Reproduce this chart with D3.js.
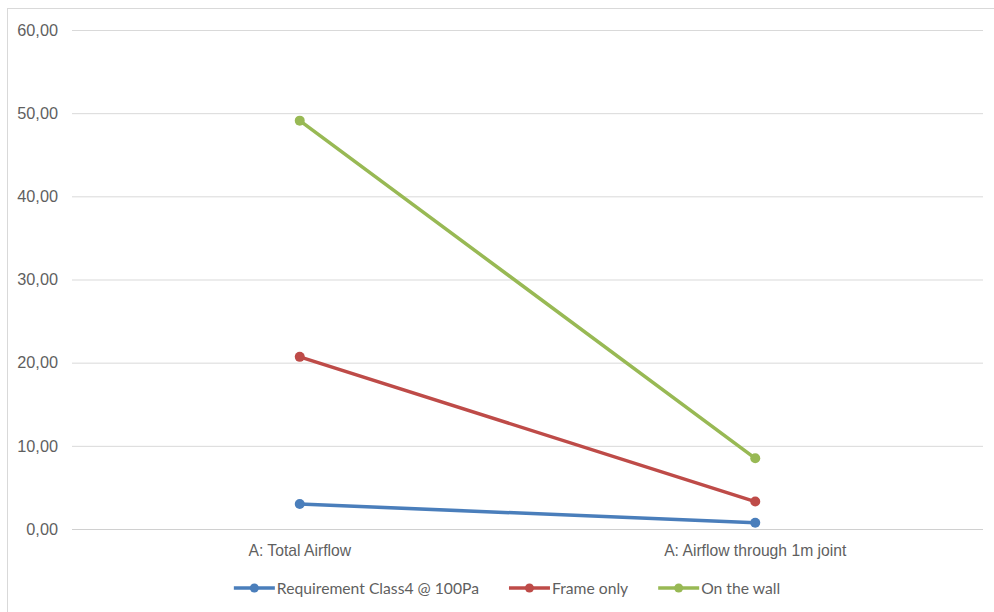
<!DOCTYPE html>
<html lang="en">
<head>
  <meta charset="UTF-8">
  <title>Airflow</title>
  <script src="https://d3js.org/d3.v7.min.js"></script>
  <style>
    body { margin: 0; background: #fff; font-family: Lato, "Open Sans", sans-serif; }
    .tick text { fill: #5f5f5f; font-size: 15.7px; }
    .y-axis .tick text { font-size: 16.3px; }
  </style>
</head>
<body>
  <svg width="994" height="612"></svg>
  <script>
    const categories = ["A: Total Airflow", "A: Airflow through 1m joint"];
    const seriesNames = ["Requirement Class4 @ 100Pa", "Frame only", "On the wall"];
    const requirement = [3.0, 0.76];
    const frameOnly = [20.7, 3.3];
    const onTheWall = [49.1, 8.5];
    const yTicks = [0, 10, 20, 30, 40, 50, 60];
    const colors = ["#4A7EBB", "#BE4B48", "#98B954"];

    const series = [requirement, frameOnly, onTheWall].map((v, i) => ({
      name: seriesNames[i], values: v, color: colors[i]
    }));

    const svg = d3.select("svg");
    const margin = { top: 30, right: 11, bottom: 83, left: 72 };
    const width = +svg.attr("width") - margin.left - margin.right;
    const height = +svg.attr("height") - margin.top - margin.bottom;

    // chart frame (right/bottom edges fall outside the picture)
    svg.append("rect")
      .attr("x", 7.5).attr("y", 8.5)
      .attr("width", 1000).attr("height", 700)
      .attr("fill", "none").attr("stroke", "#d9d9d9");

    const x = d3.scaleBand().domain(categories).range([0, width]);
    const y = d3.scaleLinear().domain([0, 60]).range([height, 0]);

    const g = svg.append("g")
      .attr("transform", `translate(${margin.left},${margin.top})`);

    // gridlines
    g.append("g")
      .selectAll("line")
      .data(yTicks)
      .join("line")
      .attr("x1", 0).attr("x2", width)
      .attr("y1", d => y(d) + 0.5).attr("y2", d => y(d) + 0.5)
      .attr("stroke", d => d === 0 ? "#d0d0d0" : "#d9d9d9");

    const yAxis = g.append("g")
      .attr("class", "y-axis")
      .call(d3.axisLeft(y).tickValues(yTicks).tickSize(0).tickPadding(14)
        .tickFormat(d => d3.format(".2f")(d).replace(".", ",")));
    yAxis.select(".domain").remove();

    const xAxis = g.append("g")
      .attr("transform", `translate(0,${height})`)
      .call(d3.axisBottom(x).tickSize(0).tickPadding(16));
    xAxis.select(".domain").remove();

    const line = d3.line()
      .x((d, i) => x(categories[i]) + x.bandwidth() / 2)
      .y(d => y(d));

    series.forEach(s => {
      g.append("path")
        .datum(s.values)
        .attr("fill", "none")
        .attr("stroke", s.color)
        .attr("stroke-width", 3.5)
        .attr("stroke-linecap", "round")
        .attr("d", line);
      g.selectAll(null)
        .data(s.values)
        .join("circle")
        .attr("cx", (d, i) => x(categories[i]) + x.bandwidth() / 2)
        .attr("cy", d => y(d))
        .attr("r", 5)
        .attr("fill", s.color);
    });

    // legend
    const legend = svg.append("g").attr("transform", "translate(0,588)");
    const items = legend.selectAll("g")
      .data(series)
      .join("g");
    items.append("line")
      .attr("x1", 0).attr("x2", 41)
      .attr("stroke", d => d.color).attr("stroke-width", 3.5);
    items.append("circle")
      .attr("cx", 20.5).attr("r", 4.5)
      .attr("fill", d => d.color);
    items.append("text")
      .attr("x", 43).attr("dy", "0.35em")
      .attr("fill", "#5f5f5f").attr("font-size", 15.7)
      .text(d => d.name);

    const gap = 30;
    const widths = items.nodes().map(n => n.getBBox().width);
    const total = d3.sum(widths) + gap * (widths.length - 1);
    let pos = 507 - total / 2;
    items.each(function (d, i) {
      d3.select(this).attr("transform", `translate(${pos},0)`);
      pos += widths[i] + gap;
    });
  </script>
</body>
</html>
